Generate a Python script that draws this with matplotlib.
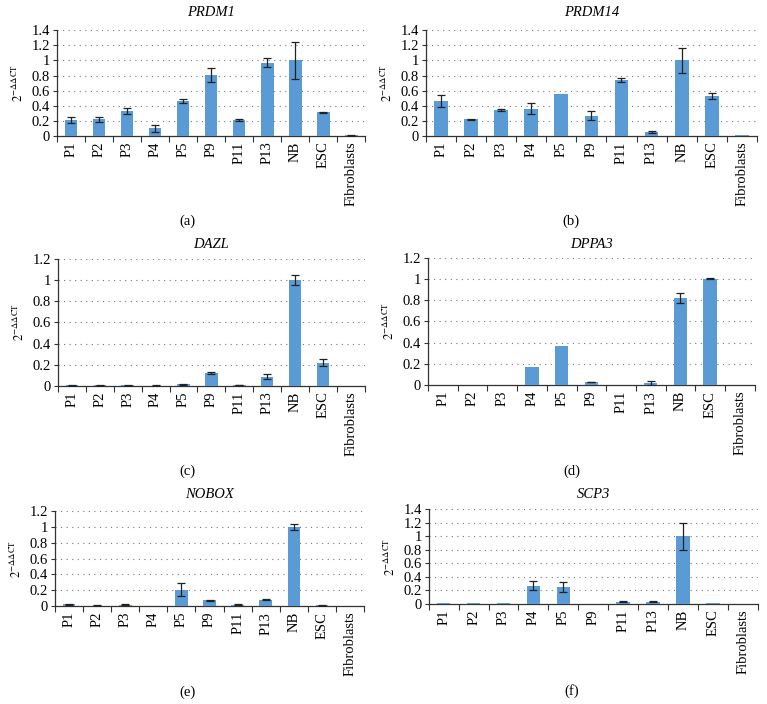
import numpy as np
import matplotlib
matplotlib.use("Agg")
import matplotlib.pyplot as plt
from matplotlib.ticker import FuncFormatter

plt.rcParams["font.family"] = ["Liberation Serif", "DejaVu Serif"]
plt.rcParams["mathtext.fontset"] = "stix"

categories = ["P1", "P2", "P3", "P4", "P5", "P9", "P11", "P13", "NB", "ESC", "Fibroblasts"]

prdm1 = [0.21, 0.22, 0.33, 0.10, 0.46, 0.81, 0.21, 0.97, 1.00, 0.31, 0.005]
prdm1_err = [0.04, 0.03, 0.04, 0.05, 0.03, 0.09, 0.01, 0.06, 0.24, 0.01, 0.003]

prdm14 = [0.46, 0.22, 0.34, 0.36, 0.55, 0.27, 0.74, 0.05, 1.00, 0.53, 0.005]
prdm14_err = [0.08, 0.01, 0.01, 0.07, 0.0, 0.06, 0.03, 0.01, 0.16, 0.04, 0.0]

dazl = [0.003, 0.003, 0.003, 0.002, 0.015, 0.12, 0.008, 0.085, 1.00, 0.22, 0.0]
dazl_err = [0.001, 0.001, 0.001, 0.001, 0.004, 0.01, 0.003, 0.025, 0.05, 0.035, 0.0]

dppa3 = [0.0, 0.0, 0.0, 0.17, 0.37, 0.03, 0.005, 0.02, 0.82, 1.00, 0.0]
dppa3_err = [0.0, 0.0, 0.0, 0.0, 0.0, 0.003, 0.0, 0.015, 0.05, 0.004, 0.0]

nobox = [0.025, 0.008, 0.02, 0.002, 0.21, 0.075, 0.02, 0.08, 1.00, 0.01, 0.0]
nobox_err = [0.005, 0.002, 0.005, 0.0, 0.08, 0.005, 0.005, 0.008, 0.04, 0.003, 0.0]

scp3 = [0.01, 0.01, 0.01, 0.27, 0.25, 0.005, 0.035, 0.035, 1.00, 0.01, 0.0]
scp3_err = [0.0, 0.0, 0.0, 0.07, 0.07, 0.0, 0.01, 0.005, 0.20, 0.0, 0.0]

# (gene, values, errors, y max, axes rect, title y, caption, caption x, caption y)
panels = [
    ("PRDM1", prdm1, prdm1_err, 1.4, [0.0743, 0.807, 0.402, 0.150], 0.982, "(a)", 0.245, 0.686),
    ("PRDM14", prdm14, prdm14_err, 1.4, [0.555, 0.807, 0.432, 0.150], 0.982, "(b)", 0.745, 0.686),
    ("DAZL", dazl, dazl_err, 1.2, [0.0756, 0.452, 0.400, 0.180], 0.653, "(c)", 0.245, 0.330),
    ("DPPA3", dppa3, dppa3_err, 1.2, [0.558, 0.453, 0.426, 0.181], 0.653, "(d)", 0.745, 0.330),
    ("NOBOX", nobox, nobox_err, 1.2, [0.0717, 0.139, 0.403, 0.135], 0.298, "(e)", 0.245, 0.016),
    ("SCP3", scp3, scp3_err, 1.4, [0.559, 0.142, 0.429, 0.135], 0.298, "(f)", 0.745, 0.018),
]


def fmt_tick(v, pos):
    return f"{v:g}"


fig = plt.figure(figsize=(7.67, 7.04), dpi=100)
x = np.arange(len(categories))

for gene, vals, errs, ymax, rect, title_y, cap, cap_x, cap_y in panels:
    ax = fig.add_axes(rect)
    ax.bar(x, vals, width=0.45, color="#5b9bd5", zorder=3)
    errs_arr = np.array(errs)
    mask = errs_arr > 0
    ax.errorbar(x[mask], np.array(vals)[mask], yerr=errs_arr[mask], fmt="none",
                ecolor="#222222", elinewidth=0.9, capsize=3, capthick=0.9, zorder=4)
    ax.set_xlim(-0.5, len(categories) - 0.5)
    ax.set_ylim(0, ymax)
    ax.set_yticks(np.arange(0, ymax + 0.01, 0.2))
    ax.yaxis.set_major_formatter(FuncFormatter(fmt_tick))
    ax.set_xticks(x)
    ax.set_xticklabels(categories, rotation=90, fontsize=10.5)
    ax.set_xticks(np.arange(-0.5, len(categories)), minor=True)
    ax.tick_params(axis="x", which="major", length=0, pad=4)
    ax.tick_params(axis="x", which="minor", length=4, width=0.8, color="#333333")
    ax.tick_params(axis="y", length=3, width=0.8, labelsize=10.5, pad=2, color="#333333")
    ax.grid(axis="y", linestyle=(0, (1, 4)), color="#777777", linewidth=0.8, zorder=0)
    for side in ("top", "right"):
        ax.spines[side].set_visible(False)
    for side in ("left", "bottom"):
        ax.spines[side].set_color("#333333")
        ax.spines[side].set_linewidth(0.9)
    ax.set_ylabel(r"$2^{-\Delta\Delta\mathrm{CT}}$", fontsize=9, labelpad=4)
    mid = rect[0] + rect[2] / 2
    fig.text(mid, title_y, gene, ha="center", va="center", fontsize=10.5, style="italic")
    fig.text(cap_x, cap_y, cap, ha="center", va="center", fontsize=10.5)

fig.savefig("out.png", dpi=100)
